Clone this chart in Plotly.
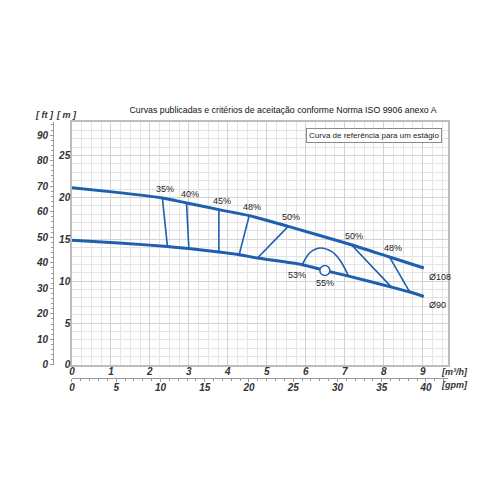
import plotly.graph_objects as go

BLUE = "#1F5FB0"
GRID_MINOR = "#E4E4E4"
GRID_MAJOR = "#D2D2D2"
BORDER = "#BDBDBD"
TEXT = "#222222"
FONT = "Liberation Sans Narrow, Liberation Sans, Arial, sans-serif"
TICK_FONT = dict(family="Liberation Sans, Arial, sans-serif", size=10, color="#333333",
                 weight="bold", style="italic")

M_TO_FT = 3.28084
M3H_TO_GPM = 4.40287

# impeller curves (flow m3/h, head m)
Q_108 = [0, 1.15, 2.32, 2.94, 3.77, 4.55, 5.55, 7.17, 8.15, 9.03]
H_108 = [21.15, 20.6, 19.94, 19.34, 18.54, 17.82, 16.54, 14.35, 12.88, 11.57]
Q_90 = [0, 1.2, 2.45, 3.0, 3.77, 4.29, 4.76, 5.91, 6.49, 7.1, 8.2, 8.67, 9.03]
H_90 = [14.87, 14.55, 14.15, 13.9, 13.48, 13.16, 12.76, 11.96, 11.28, 10.6, 9.29, 8.7, 8.17]

# iso-efficiency lines
ISO_LABELS = ["35%", "40%", "45%", "48%", "50%", "50%", "48%"]
ISO_Q_TOP = [2.32, 2.94, 3.77, 4.55, 5.55, 7.17, 8.15]
ISO_H_TOP = [19.94, 19.34, 18.54, 17.82, 16.54, 14.35, 12.88]
ISO_Q_BOT = [2.45, 3.0, 3.77, 4.29, 4.76, 8.2, 8.67]
ISO_H_BOT = [14.15, 13.9, 13.48, 13.16, 12.76, 9.29, 8.7]

# 53% loop
ARC_Q = [5.91, 6.1, 6.36, 6.66, 6.87, 7.1]
ARC_H = [11.96, 13.36, 13.96, 13.55, 12.56, 10.6]
ARC_LABEL = "53%"

# best efficiency point
BEP_Q = [6.49]
BEP_H = [11.28]
BEP_LABEL = "55%"

X_TICKS = list(range(10))
Y_TICKS = [0, 5, 10, 15, 20, 25]
FT_TICKS = list(range(0, 91, 10))
GPM_TICKS = list(range(0, 41, 5))

Q_MAX = 9.65
H_MAX = 29

# page body adds an 8px offset, so the figure is laid out shifted back by that
OFF = 8
ML, MR, MT, MB = 53 - OFF, 52 + OFF, 122 - OFF, 122 + OFF
PW, PH = 500 - ML - MR, 500 - MT - MB


def paper(x, y):
    # screen pixels -> paper coords
    return (x - OFF - ML) / PW, (500 - MB - (y - OFF)) / PH


fig = go.Figure()

for name, q, h in [("Ø108", Q_108, H_108), ("Ø90", Q_90, H_90)]:
    fig.add_trace(go.Scatter(x=q, y=h, mode="lines", name=name,
                             line=dict(color=BLUE, width=3, shape="spline", smoothing=0.6)))

for i in range(len(ISO_LABELS)):
    fig.add_trace(go.Scatter(x=[ISO_Q_TOP[i], ISO_Q_BOT[i]], y=[ISO_H_TOP[i], ISO_H_BOT[i]],
                             mode="lines", line=dict(color=BLUE, width=1.6)))

fig.add_trace(go.Scatter(x=ARC_Q, y=ARC_H, mode="lines",
                         line=dict(color=BLUE, width=1.6, shape="spline", smoothing=1)))

fig.add_trace(go.Scatter(x=BEP_Q, y=BEP_H, mode="markers",
                         marker=dict(size=10, color="white", line=dict(color=BLUE, width=1.5))))

label_font = dict(family=FONT, size=9, color=TEXT)
for i, lab in enumerate(ISO_LABELS):
    fig.add_annotation(x=ISO_Q_TOP[i], y=ISO_H_TOP[i], text=lab, showarrow=False,
                       xshift=3, yshift=9, font=label_font)
fig.add_annotation(x=ARC_Q[0], y=ARC_H[0], text=ARC_LABEL, showarrow=False,
                   xshift=-5, yshift=-10, font=label_font)
fig.add_annotation(x=BEP_Q[0], y=BEP_H[0], text=BEP_LABEL, showarrow=False,
                   yshift=-13, font=label_font)
fig.add_annotation(x=Q_108[-1], y=H_108[-1], text="Ø108", showarrow=False,
                   xanchor="left", xshift=3, yshift=-9, font=label_font)
fig.add_annotation(x=Q_90[-1], y=H_90[-1], text="Ø90", showarrow=False,
                   xanchor="left", xshift=3, yshift=-8, font=label_font)

# reference box
bx, by = paper(442, 128)
fig.add_annotation(xref="paper", yref="paper", x=bx, y=by, xanchor="right", yanchor="top",
                   text="Curva de referência para um estágio", showarrow=False,
                   font=dict(family=FONT, size=8, color=TEXT),
                   bgcolor="white", bordercolor="#8A8A8A", borderwidth=1, borderpad=2)

# unit labels
unit_font = dict(family="Liberation Sans, Arial, sans-serif", size=9, color="#333333",
                 weight="bold", style="italic")
for txt, x, y in [("[ ft ]", 44, 115), ("[ m ]", 66, 115), ("[m³/h]", 454, 372), ("[gpm]", 454, 385)]:
    px, py = paper(x, y)
    fig.add_annotation(xref="paper", yref="paper", x=px, y=py, text=txt,
                       showarrow=False, xanchor="center", yanchor="middle", font=unit_font)

fig.update_layout(
    width=500, height=500,
    margin=dict(l=ML, r=MR, t=MT, b=MB, autoexpand=False),
    paper_bgcolor="white", plot_bgcolor="white",
    showlegend=False,
    title=dict(text="Curvas publicadas e critérios de aceitação conforme Norma ISO 9906 anexo A",
               x=(283 - OFF) / 500, xanchor="center", y=1 - (110 - OFF) / 500, yanchor="middle",
               yref="container", font=dict(family=FONT, size=8.8, color="#111111")),
    xaxis=dict(domain=[0.048, 1], range=[0, Q_MAX], tickvals=X_TICKS, showgrid=True,
               gridcolor=GRID_MAJOR, gridwidth=1, zeroline=False,
               minor=dict(dtick=0.25, showgrid=True, gridcolor=GRID_MINOR),
               showline=True, linecolor=BORDER, linewidth=1.5, mirror=True,
               ticks="", tickfont=TICK_FONT, ticklabelstandoff=-4, automargin=False),
    yaxis=dict(domain=[0.051, 1], range=[0, H_MAX], tickvals=Y_TICKS, showgrid=True,
               gridcolor=GRID_MAJOR, zeroline=False,
               minor=dict(dtick=1, showgrid=True, gridcolor=GRID_MINOR),
               showline=True, linecolor=BORDER, linewidth=1.5, mirror=True,
               ticks="", tickfont=TICK_FONT, ticklabelstandoff=-2, automargin=False),
    yaxis2=dict(overlaying="y", anchor="free", position=0, side="left",
                range=[0, H_MAX * M_TO_FT], tickvals=FT_TICKS, showgrid=False, zeroline=False,
                showline=True, linecolor="#9A9A9A", ticks="outside", ticklen=3, tickcolor="#9A9A9A",
                minor=dict(dtick=2, ticks="outside", ticklen=2, tickcolor="#9A9A9A"),
                tickfont=TICK_FONT, automargin=False),
    xaxis2=dict(overlaying="x", anchor="free", position=0, side="bottom",
                range=[0, Q_MAX * M3H_TO_GPM], tickvals=GPM_TICKS, showgrid=False, zeroline=False,
                showline=True, linecolor="#9A9A9A", ticks="outside", ticklen=3, tickcolor="#9A9A9A",
                minor=dict(dtick=1, ticks="outside", ticklen=2, tickcolor="#9A9A9A"),
                tickfont=TICK_FONT, ticklabelstandoff=-3, automargin=False),
)

# invisible trace so the secondary axes are drawn
fig.add_trace(go.Scatter(x=[0], y=[0], xaxis="x2", yaxis="y2", mode="markers",
                         marker=dict(opacity=0), hoverinfo="skip"))

fig.write_html("out.html")
